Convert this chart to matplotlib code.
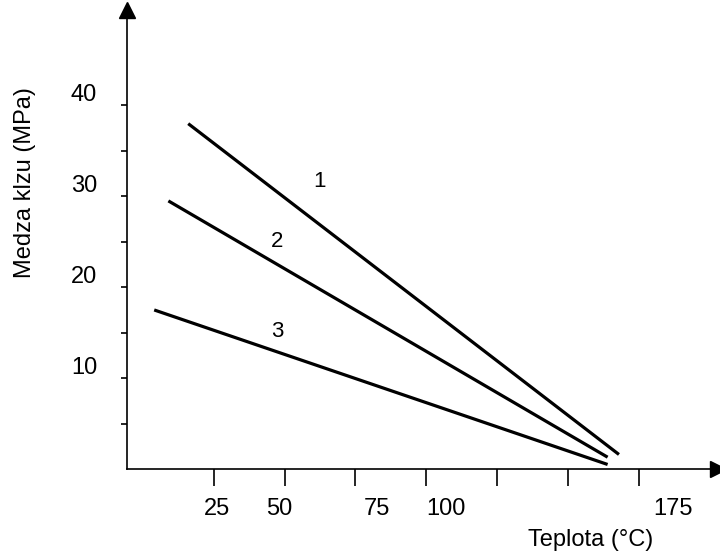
import matplotlib
matplotlib.use('Agg')
import matplotlib.pyplot as plt
import matplotlib.transforms as mtransforms

plt.rcParams['font.family'] = ['Liberation Sans', 'DejaVu Sans']

# line endpoints (temperature, yield stress)
line1_x = [16, 168]
line1_y = [38, 1.6]
line2_x = [9, 164]
line2_y = [29.5, 1.3]
line3_x = [4, 164]
line3_y = [17.5, 0.5]

curve_names = ['1', '2', '3']
name_x = [62.5, 47.5, 47.5]
name_y = [31.6, 25.0, 15.1]

xticks_minor = [25, 50, 75, 100, 125, 150, 175]
xlabel_pos = [26, 48, 82.5, 107, 187]
xlabel_txt = ['25', '50', '75', '100', '175']
yticks = [5, 10, 15, 20, 25, 30, 35, 40]
ylabel_txt = ['', '10', '', '20', '', '30', '', '40']

fig = plt.figure(figsize=(7.2, 5.54), dpi=100)
ax = fig.add_axes([0.1764, 0.1534, 0.821, 0.8285])

lw = 2.3
for xs, ys in [(line1_x, line1_y), (line2_x, line2_y), (line3_x, line3_y)]:
    ax.plot(xs, ys, color='black', linewidth=lw, solid_capstyle='butt')

for n, x, y in zip(curve_names, name_x, name_y):
    ax.text(x, y, n, fontsize=16, ha='center', va='center')

ax.set_xlim(-5.6, 203)
ax.set_ylim(0, 50.5)

for s in ['top', 'right']:
    ax.spines[s].set_visible(False)
for s in ['left', 'bottom']:
    ax.spines[s].set_linewidth(1.2)

# arrow heads
ax.plot(1, 0, '>', color='black', markersize=11, transform=ax.transAxes, clip_on=False)
ax.plot(0, 1, '^', color='black', markersize=11, transform=ax.transAxes, clip_on=False)

# x: tick marks as minor ticks, labels as major ticks with no mark
ax.set_xticks(xticks_minor, minor=True)
ax.set_xticks(xlabel_pos)
ax.set_xticklabels(xlabel_txt, fontsize=17)
ax.tick_params(axis='x', which='minor', length=12, width=1.2, direction='out')
ax.tick_params(axis='x', which='major', length=0, pad=21)

ax.set_yticks(yticks)
ax.set_yticklabels(ylabel_txt, fontsize=17)
ax.tick_params(axis='y', which='major', length=4, width=1.2, direction='out', pad=17.5)

# y labels sit above their tick value in the original
off = mtransforms.ScaledTranslation(0, 0.13, fig.dpi_scale_trans)
for lab in ax.get_yticklabels():
    lab.set_transform(lab.get_transform() + off)

fig.text(591 / 720, 1 - 540 / 554, 'Teplota (°C)', fontsize=17, ha='center', va='center')
fig.text(25 / 720, 1 - 183 / 554, 'Medza klzu (MPa)', fontsize=17, rotation=90,
         ha='center', va='center')

fig.savefig('out.png', dpi=100)
